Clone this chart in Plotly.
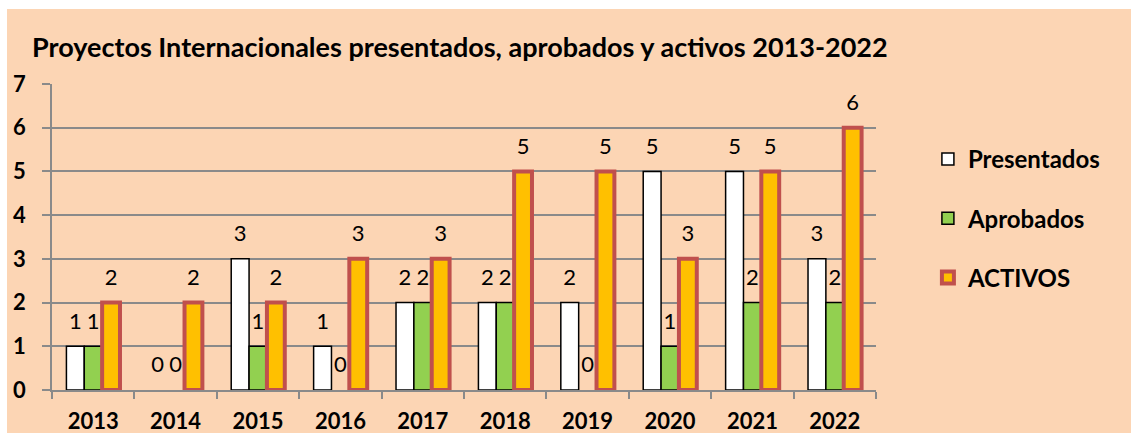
import plotly.graph_objects as go

years = ["2013", "2014", "2015", "2016", "2017", "2018", "2019", "2020", "2021", "2022"]
presentados = [1, 0, 3, 1, 2, 2, 2, 5, 5, 3]
aprobados = [1, 0, 1, 0, 2, 2, 0, 1, 2, 2]
activos = [2, 2, 2, 3, 3, 5, 5, 3, 5, 6]

FONT = "Lato"
PEACH = "#FCD5B4"
GRID = "#8A8A8A"
GAP = 0.35

series = [
    ("Presentados", presentados, "white", "black", 1.5),
    ("Aprobados", aprobados, "#92D050", "black", 1.5),
    ("ACTIVOS", activos, "#FFC000", "#C0504D", 4),
]

fig = go.Figure()
for i, (name, vals, fill, edge, lw) in enumerate(series):
    fig.add_trace(go.Bar(
        x=years, y=vals, name=name, offsetgroup=str(i), legendgroup=name,
        marker=dict(color=fill, line=dict(color=edge, width=[lw if v else 0 for v in vals])),
        hoverinfo="skip",
    ))
# data labels: invisible markers push the text up above each bar
for i, (name, vals, fill, edge, lw) in enumerate(series):
    fig.add_trace(go.Scatter(
        x=years, y=vals, mode="markers+text", text=[str(v) for v in vals],
        textposition="top center", offsetgroup=str(i), orientation="v",
        marker=dict(size=18, opacity=0), showlegend=False, hoverinfo="skip",
        textfont=dict(family=FONT, size=22, color="black"), cliponaxis=False,
    ))

fig.add_shape(type="rect", xref="paper", yref="paper", layer="below",
              x0=(7 - 52) / 824, x1=1.4, y0=-0.5, y1=(390 - 9) / 306,
              fillcolor=PEACH, line=dict(width=0))

fig.update_layout(
    width=1131, height=433, autosize=False,
    margin=dict(l=52, r=255, t=84, b=43, autoexpand=False),
    paper_bgcolor="white", plot_bgcolor="rgba(0,0,0,0)",
    barmode="group", bargap=GAP, bargroupgap=0,
    scattermode="group", scattergap=GAP,
    title=dict(text="<b>Proyectos Internacionales presentados, aprobados y activos 2013-2022</b>",
               x=32 / 1131, xanchor="left", y=1 - 48 / 433, yanchor="middle",
               font=dict(family=FONT, size=27, color="black")),
    legend=dict(x=1.063, xanchor="left", y=0.827, yanchor="top",
                font=dict(family=FONT, size=24, color="black", weight="bold"),
                tracegroupgap=25, bgcolor="rgba(0,0,0,0)"),
    showlegend=True,
)
fig.update_xaxes(showline=True, linecolor=GRID, linewidth=1.5, ticks="outside",
                 tickson="boundaries", ticklen=7, tickcolor=GRID, tickwidth=1.5,
                 ticklabelstandoff=11, showgrid=False, automargin=False,
                 tickfont=dict(family=FONT, size=22, color="black", weight="bold"))
fig.update_yaxes(range=[0, 7], dtick=1, showline=True, linecolor=GRID, linewidth=1.5,
                 ticks="outside", ticklen=8, tickcolor=GRID, tickwidth=1.5,
                 showgrid=True, gridcolor=GRID, gridwidth=1.5, zeroline=False,
                 ticklabelstandoff=12, automargin=False,
                 tickfont=dict(family=FONT, size=22, color="black", weight="bold"))

fig.write_html("out.html", config={"displayModeBar": False},
               post_script="document.body.style.margin='0';")
